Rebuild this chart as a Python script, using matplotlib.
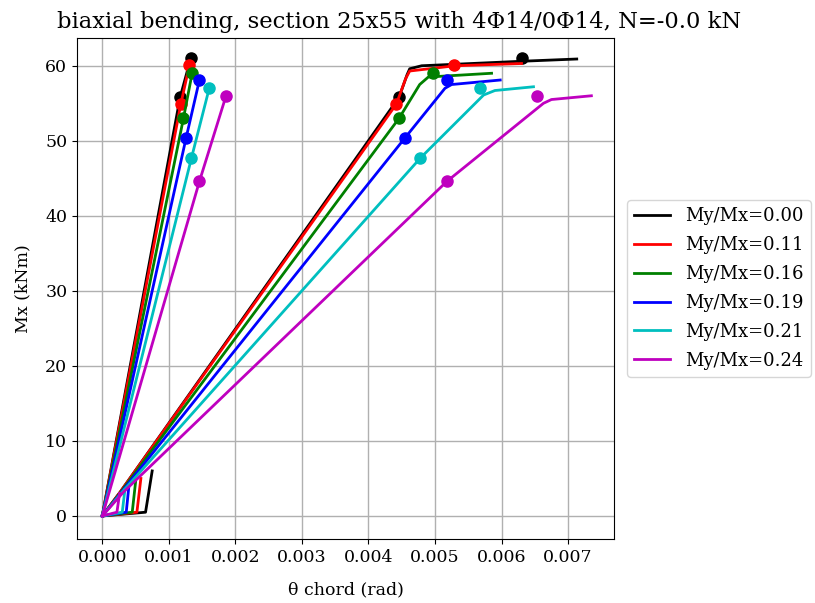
import numpy as np
import matplotlib.pyplot as plt

plt.rcParams['font.family'] = 'DejaVu Serif'

ratios = ['0.00', '0.11', '0.16', '0.19', '0.21', '0.24']
colors = ['k', 'r', 'g', 'b', 'c', 'm']

# yield / ultimate moments
M_y = [55.8, 54.9, 53.0, 50.4, 47.7, 44.6]
M_u = [61.0, 60.1, 59.0, 58.1, 57.1, 56.0]

# steep (elastic) branch rotations
th_y_el = [0.00117, 0.00118, 0.00122, 0.00126, 0.00134, 0.00146]
th_u_el = [0.00133, 0.00131, 0.00135, 0.00146, 0.00161, 0.00186]

# chord rotation at yield / ultimate markers
th_y = [0.00446, 0.00442, 0.00446, 0.00455, 0.00478, 0.00518]
th_u = [0.00630, 0.00529, 0.00497, 0.00518, 0.00567, 0.00654]

# full curves (theta, M)
curve_th = [
    [0, 0.00027, 0.00446, 0.00458, 0.00462, 0.00480, 0.00630, 0.00713],
    [0, 0.00027, 0.00442, 0.00456, 0.00462, 0.00530, 0.00630],
    [0, 0.00028, 0.00446, 0.00477, 0.00490, 0.00585],
    [0, 0.00029, 0.00455, 0.00515, 0.00525, 0.00598],
    [0, 0.00030, 0.00478, 0.00573, 0.00590, 0.00648],
    [0, 0.00032, 0.00518, 0.00663, 0.00675, 0.00735],
]
curve_M = [
    [0, 3.2, 55.8, 58.8, 59.6, 60.0, 60.6, 60.9],
    [0, 3.2, 54.9, 58.3, 59.3, 60.0, 60.3],
    [0, 3.2, 53.0, 57.5, 58.5, 59.0],
    [0, 3.2, 50.4, 57.0, 57.5, 58.1],
    [0, 3.2, 47.7, 56.1, 56.7, 57.2],
    [0, 3.2, 44.6, 55.0, 55.5, 56.0],
]

# slip branches near the origin
slip_th = [
    [0, 0.00065, 0.00075],
    [0, 0.00052, 0.00058],
    [0, 0.00045, 0.00050],
    [0, 0.00036, 0.00040],
    [0, 0.00030, 0.00034],
    [0, 0.00022, 0.00026],
]
slip_M = [
    [0, 0.5, 6.0],
    [0, 0.5, 5.0],
    [0, 0.5, 4.5],
    [0, 0.5, 4.0],
    [0, 0.5, 3.5],
    [0, 0.5, 3.0],
]

fig = plt.figure(figsize=(8.15, 6.03), dpi=100)
ax = fig.add_axes([77/815, 1-539/603, (614-77)/815, (539-38)/603])

for i, c in enumerate(colors):
    ax.plot(curve_th[i], curve_M[i], '-', color=c, lw=2, label='My/Mx=' + ratios[i])
    ax.plot(slip_th[i], slip_M[i], '-', color=c, lw=2)
    ax.plot([0, th_y_el[i], th_u_el[i]], [0, M_y[i], M_u[i]], '-', color=c, lw=2)
    ax.plot([th_y_el[i], th_u_el[i]], [M_y[i], M_u[i]], 'o', color=c, ms=8)
    ax.plot([th_y[i], th_u[i]], [M_y[i], M_u[i]], 'o', color=c, ms=8)

ax.set_xlim(-0.00038, 0.00769)
ax.set_ylim(-3.07, 63.7)
ax.set_xticks(np.arange(0, 0.0071, 0.001))
ax.set_yticks(np.arange(0, 61, 10))
ax.tick_params(labelsize=12.5)
ax.grid(True, color='#b0b0b0', lw=1)
ax.set_xlabel('θ chord (rad)', fontsize=12.5, labelpad=11)
ax.set_ylabel('Mx (kNm)', fontsize=12.5, labelpad=10)

fig.text(57/815, 1-28/603, 'biaxial bending, section 25x55 with 4Φ14/0Φ14, N=-0.0 kN',
         fontsize=16.3, va='baseline', ha='left')

ax.legend(loc='center left', bbox_to_anchor=(1.0075, 0.5), fontsize=13,
          handlelength=2, labelspacing=0.6)

plt.savefig('out.png')
